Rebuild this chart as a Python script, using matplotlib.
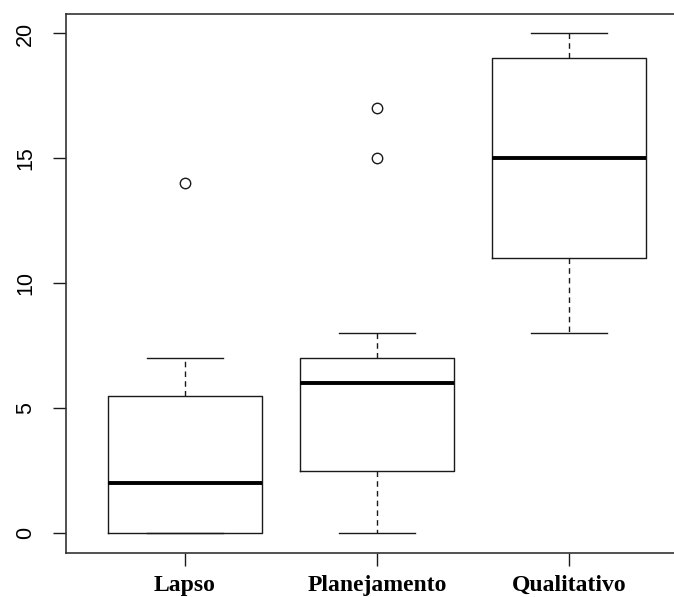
import matplotlib
matplotlib.use("Agg")
import matplotlib.pyplot as plt

# Grupos e estatísticas resumidas de cada boxplot
categorias = ["Lapso", "Planejamento", "Qualitativo"]
minimos = [0, 0, 8]
q1 = [0, 2.5, 11]
medianas = [2, 6, 15]
q3 = [5.5, 7, 19]
maximos = [7, 8, 20]
outliers = [[14], [15, 17], []]

yticks = [0, 5, 10, 15, 20]

stats = []
for i, nome in enumerate(categorias):
    stats.append(dict(label=nome, whislo=minimos[i], q1=q1[i], med=medianas[i],
                      q3=q3[i], whishi=maximos[i], fliers=outliers[i]))

W, H, DPI = 674, 597, 100
fig = plt.figure(figsize=(W / DPI, H / DPI), dpi=DPI)

# eixo estendido à direita, como na janela gráfica original
left_px, right_px, top_px, bottom_px = 66, 688, 13.5, 553
ax = fig.add_axes([left_px / W, 1 - bottom_px / H,
                   (right_px - left_px) / W, (bottom_px - top_px) / H])

cor = "#1a1a1a"
ax.bxp(stats, positions=[1, 2, 3], widths=0.8, showfliers=True,
       boxprops=dict(color=cor, linewidth=1.0),
       medianprops=dict(color="black", linewidth=2.8, solid_capstyle="butt"),
       whiskerprops=dict(color=cor, linewidth=1.0, linestyle=(0, (4, 3))),
       capprops=dict(color=cor, linewidth=1.0),
       capwidths=0.4,
       flierprops=dict(marker="o", markersize=7.5, markerfacecolor="none",
                       markeredgecolor=cor, markeredgewidth=1.0))

ax.set_xlim(0.38, 3.62)
ax.set_ylim(-0.8, 20.8)

ax.set_yticks(yticks)
ax.set_yticklabels([str(v) for v in yticks], rotation=90, va="center",
                   fontsize=15.5, family="Liberation Sans")
ax.set_xticks([1, 2, 3])
ax.set_xticklabels(categorias, fontsize=17, family="Liberation Serif",
                   fontweight="bold")

ax.tick_params(axis="y", length=9.5, width=1.0, pad=12, color=cor)
ax.tick_params(axis="x", length=9.5, width=1.0, pad=6.5, color=cor)

for s in ax.spines.values():
    s.set_color("#333333")
    s.set_linewidth(1.2)

fig.savefig("out.png", dpi=DPI)
